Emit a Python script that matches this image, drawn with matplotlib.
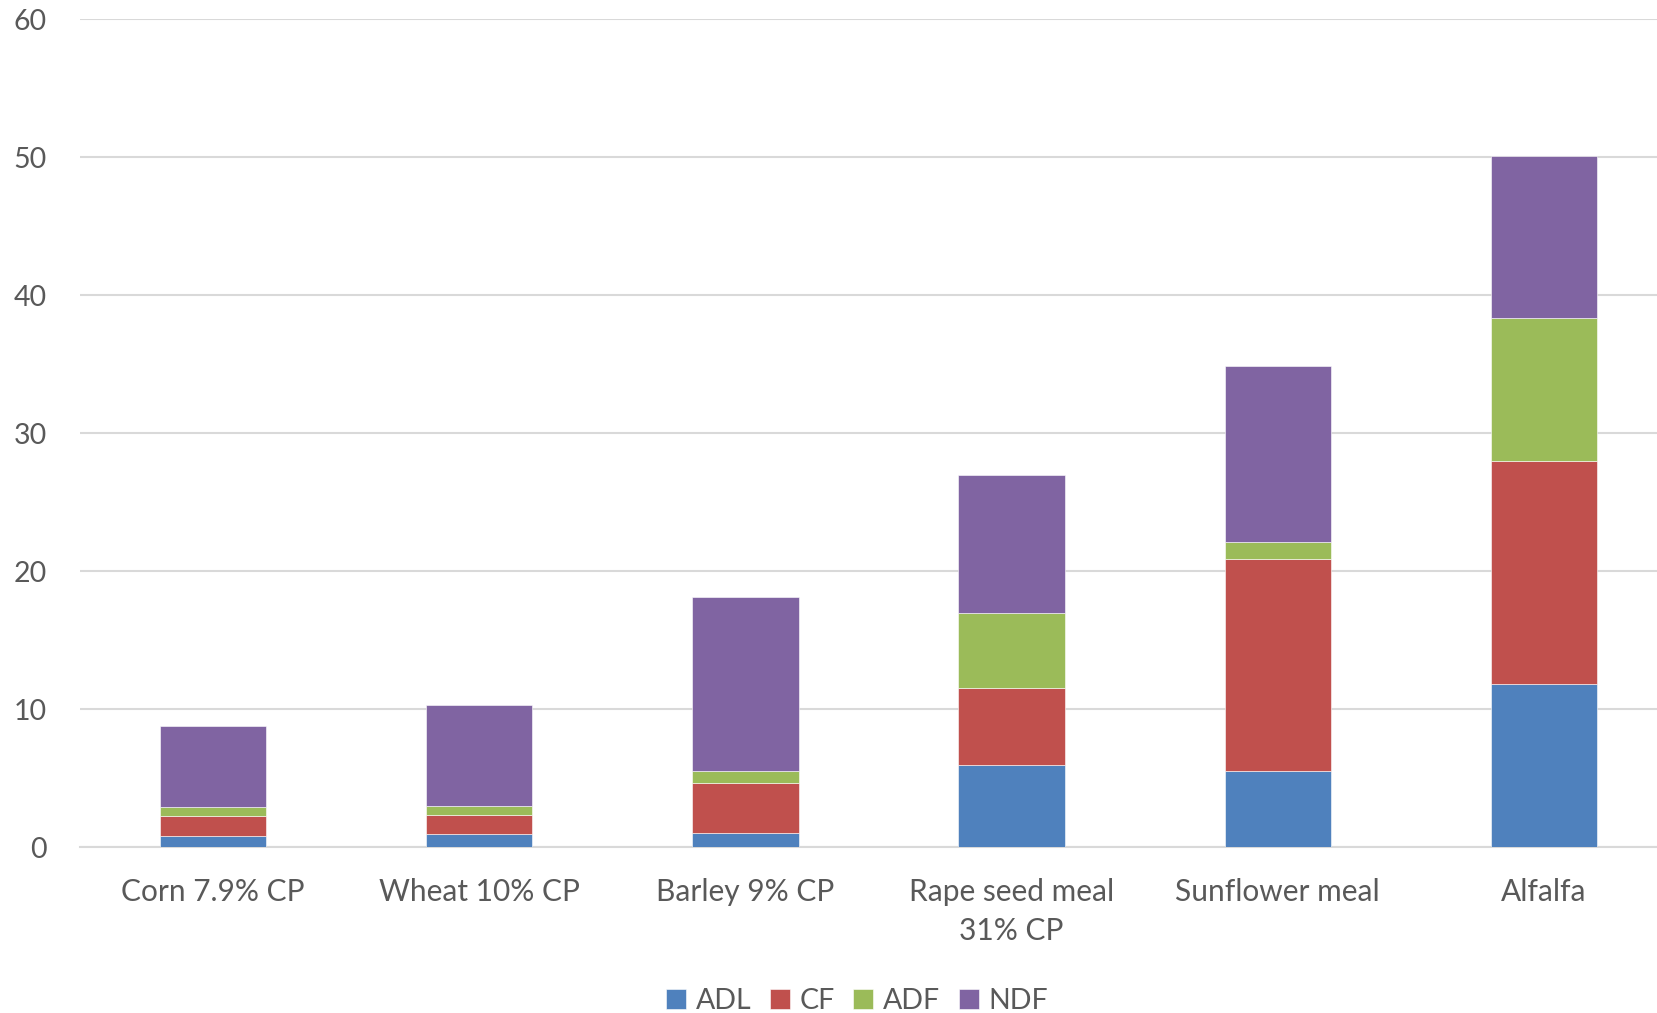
import matplotlib
matplotlib.use("Agg")
import matplotlib.pyplot as plt
import numpy as np

# Feed fibre fractions (stacked), % of dry matter
categories = ["Corn 7.9% CP", "Wheat 10% CP", "Barley 9% CP",
              "Rape seed meal\n31% CP", "Sunflower meal", "Alfalfa"]
adl = [0.83, 0.95, 1.05, 5.95, 5.5, 11.8]
cf = [1.43, 1.38, 3.6, 5.6, 15.4, 16.2]
adf = [0.63, 0.63, 0.85, 5.4, 1.2, 10.3]
ndf = [5.9, 7.3, 12.6, 10.0, 12.75, 11.8]

series = [("ADL", adl, "#4F81BD"), ("CF", cf, "#C0504D"),
          ("ADF", adf, "#9BBB59"), ("NDF", ndf, "#8064A2")]
yticks = [0, 10, 20, 30, 40, 50, 60]

plt.rcParams["font.family"] = ["Lato", "DejaVu Sans"]
text_color = "#595959"

fig = plt.figure(figsize=(16.58, 10.13), dpi=100)
ax = fig.add_axes([80 / 1658, 1 - 847 / 1013, 1597 / 1658, (847 - 19) / 1013])

x = np.arange(len(categories))
bottom = np.zeros(len(categories))
handles = []
for name, vals, color in series:
    h = ax.bar(x, vals, width=0.4, bottom=bottom, color=color, label=name,
               edgecolor="white", linewidth=0.4, zorder=3)
    bottom += np.array(vals)
    handles.append(h)

ax.set_xlim(-0.5, len(categories) - 0.5)
ax.set_ylim(0, 60)
ax.set_yticks(yticks)
ax.set_xticks(x)
ax.set_xticklabels(categories, fontsize=21.5, color=text_color, linespacing=1.5)
ax.tick_params(axis="y", labelsize=20.5, labelcolor=text_color, length=0, pad=24)
ax.tick_params(axis="x", length=0, pad=22)
ax.yaxis.grid(True, color="#D9D9D9", linewidth=1.5, zorder=0)
for side in ["top", "right", "left"]:
    ax.spines[side].set_visible(False)
ax.spines["bottom"].set_color("#D9D9D9")
ax.spines["bottom"].set_linewidth(1.5)

fig.legend(handles=handles, loc="center", bbox_to_anchor=(857 / 1658, 1 - 1001 / 1013),
           ncol=4, frameon=False, fontsize=20.5, labelcolor=text_color,
           handlelength=0.7, handleheight=0.7, handletextpad=0.35, columnspacing=0.65)

fig.savefig("out.png", dpi=100, facecolor="white")
